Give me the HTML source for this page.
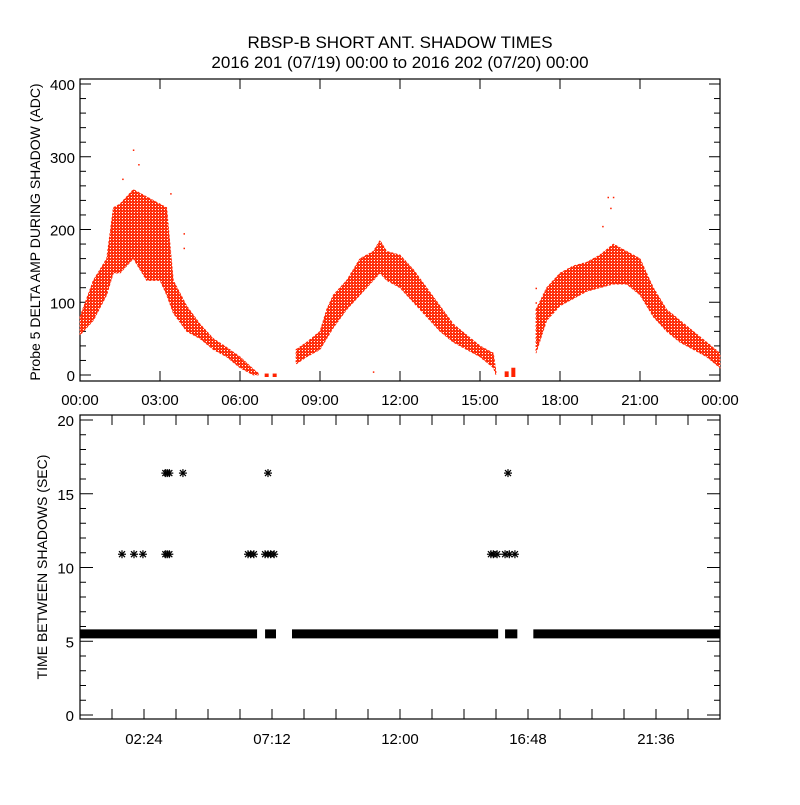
<!DOCTYPE html>
<html><head><meta charset="utf-8"><style>
html,body{margin:0;padding:0;background:#fff;}
svg text{font-family:"Liberation Sans",sans-serif;fill:#000;}
</style></head><body>
<svg id="chart" width="800" height="800" viewBox="0 0 800 800">
<defs>
<pattern id="speck" width="3" height="3" patternUnits="userSpaceOnUse">
<rect x="0" y="0" width="3" height="3" fill="#ff5533"/>
<rect x="0" y="0" width="2" height="1" fill="#ff2200"/>
<rect x="1" y="1" width="2" height="1" fill="#ff2200"/>
<rect x="0" y="2" width="1" height="1" fill="#ff2200"/>
<rect x="2" y="2" width="1" height="1" fill="#ffffff"/>
</pattern>
</defs>
<text x="400" y="48" font-size="17" text-anchor="middle">RBSP-B SHORT ANT. SHADOW TIMES</text>
<text x="400" y="68" font-size="17" text-anchor="middle">2016 201 (07/19) 00:00 to 2016 202 (07/20) 00:00</text>
<g id="topPanel"></g>
<g id="botPanel"></g>
</svg>
<script>
// ---- top panel data (hours, low/high ADC envelope) ----
const seg1Hours = [0,0.5,1.0,1.25,1.5,2.0,2.5,3.0,3.25,3.5,4.0,4.5,5.0,5.5,6.0,6.5,6.7];
const seg1Low   = [55,75,110,140,140,160,130,130,110,85,60,50,35,25,10,0,0];
const seg1High  = [80,130,160,230,235,255,245,235,230,130,95,70,50,38,25,8,2];
const seg2Hours = [8.1,8.5,9.0,9.25,9.5,10,10.5,11,11.25,11.5,12,12.5,13,13.5,14,14.5,15,15.5,15.6];
const seg2Low   = [15,25,35,50,65,90,110,130,140,130,120,100,80,60,45,35,25,10,0];
const seg2High  = [35,45,60,90,110,130,160,170,185,170,165,145,120,95,70,55,40,30,5];
const seg3Hours = [17.1,17.5,18,18.5,19,19.5,20,20.5,21,21.5,22,22.5,23,23.5,24];
const seg3Low   = [30,75,95,105,115,120,125,125,110,80,60,45,35,25,10];
const seg3High  = [90,120,140,150,155,165,180,170,160,120,90,75,60,45,30];
const smallHours = [7.0,7.3,16.0,16.25];
const smallVals  = [2,2,5,10];
const outlierHours = [2.0,2.2,1.6,3.4,3.9,3.9,19.8,19.9,20.0,19.6,17.1,17.1,11.0];
const outlierVals  = [310,290,270,250,195,175,245,230,245,205,120,100,5];
const topYTicks = [0,100,200,300,400];
const topXLabels = ["00:00","03:00","06:00","09:00","12:00","15:00","18:00","21:00","00:00"];
// ---- bottom panel data ----
const bandSegments = [[0,6.64],[6.94,7.35],[7.95,15.68],[15.94,16.4],[17.0,24]];
const bandValue = 5.5;
const starHours = [1.575,2.025,2.36,3.2,3.27,3.35,6.3,6.4,6.52,6.94,7.05,7.15,7.28,15.41,15.5,15.64,15.94,16.1,16.31,3.2,3.27,3.35,3.86,7.05,16.05];
const starVals  = [10.9,10.9,10.9,10.9,10.9,10.9,10.9,10.9,10.9,10.9,10.9,10.9,10.9,10.9,10.9,10.9,10.9,10.9,10.9,16.4,16.4,16.4,16.4,16.4,16.4];
const botYTicks = [0,5,10,15,20];
const botXLabels = ["02:24","07:12","12:00","16:48","21:36"];

const NS="http://www.w3.org/2000/svg";
function mk(tag,attrs,parent){const e=document.createElementNS(NS,tag);for(const k in attrs)e.setAttribute(k,attrs[k]);parent.appendChild(e);return e;}
const L=80,R=720;
const xH=h=>L+h*(R-L)/24;
const yT=v=>375-v*0.7275;
const yB=v=>715-v*14.75;
const topG=document.getElementById('topPanel'), botG=document.getElementById('botPanel');

const f1=mk('rect',{x:L,y:79,width:R-L,height:302,fill:'none',stroke:'#000','stroke-width':1.2},topG);


for(let v=0;v<=400;v+=20){const maj=v%100===0;const len=maj?11:6;
 mk('line',{x1:L,y1:yT(v),x2:L+len,y2:yT(v),stroke:'#000'},topG);
 mk('line',{x1:R,y1:yT(v),x2:R-len,y2:yT(v),stroke:'#000'},topG);}
topYTicks.forEach(v=>{const t=mk('text',{x:L-5,y:yT(v)+6,'font-size':15,'text-anchor':'end'},topG);t.textContent=v;
 
 });
topXLabels.forEach((s,i)=>{const x=xH(i*3);
 mk('line',{x1:x,y1:79,x2:x,y2:89,stroke:'#000'},topG);mk('line',{x1:x,y1:381,x2:x,y2:371,stroke:'#000'},topG);
 const t=mk('text',{x:x,y:405,'font-size':15,'text-anchor':'middle'},topG);t.textContent=s;
 
 });
const yt=mk('text',{transform:'translate(40,232) rotate(-90)','font-size':14,'text-anchor':'middle'},topG);
yt.textContent='Probe 5 DELTA AMP DURING SHADOW (ADC)';


function band(hs,lo,hi,name){let pts=hs.map((h,i)=>xH(h)+','+yT(hi[i]));
 for(let i=hs.length-1;i>=0;i--)pts.push(xH(hs[i])+','+yT(lo[i]));
 const p=mk('polygon',{points:pts.join(' '),fill:'url(#speck)',stroke:'#ff2200','stroke-width':0.8,'stroke-dasharray':'2 2'},topG);
 
 }
band(seg1Hours,seg1Low,seg1High,'amp-points-pass-1');
band(seg2Hours,seg2Low,seg2High,'amp-points-pass-2');
band(seg3Hours,seg3Low,seg3High,'amp-points-pass-3');
smallHours.forEach((h,i)=>{const r=mk('rect',{x:xH(h)-2,y:yT(smallVals[i]),width:4,height:375-yT(smallVals[i])+2,fill:'#ff2200'},topG);
 
 });
outlierHours.forEach((h,i)=>{const r=mk('rect',{x:xH(h)-0.5,y:yT(outlierVals[i]),width:1.5,height:1.5,fill:'#ff2200'},topG);
 
 });

const f2=mk('rect',{x:L,y:415,width:R-L,height:304,fill:'none',stroke:'#000','stroke-width':1.2},botG);


for(let v=0;v<=20;v++){const maj=v%5===0;const len=maj?13:6;
 mk('line',{x1:L,y1:yB(v),x2:L+len,y2:yB(v),stroke:'#000'},botG);
 mk('line',{x1:R,y1:yB(v),x2:R-len,y2:yB(v),stroke:'#000'},botG);}
botYTicks.forEach(v=>{const t=mk('text',{x:L-6,y:yB(v)+6,'font-size':15,'text-anchor':'end'},botG);t.textContent=v;
 
 });
for(let h=1.2;h<24;h+=1.2){const x=xH(h);
 mk('line',{x1:x,y1:415,x2:x,y2:425,stroke:'#000'},botG);mk('line',{x1:x,y1:719,x2:x,y2:709,stroke:'#000'},botG);}
botXLabels.forEach((s,i)=>{const x=xH(2.4+i*4.8);
 const t=mk('text',{x:x,y:744,'font-size':15,'text-anchor':'middle'},botG);t.textContent=s;
 
 });
const yb=mk('text',{transform:'translate(47,567) rotate(-90)','font-size':14,'text-anchor':'middle'},botG);
yb.textContent='TIME BETWEEN SHADOWS (SEC)';


bandSegments.forEach(s=>{const r=mk('rect',{x:xH(s[0]),y:yB(bandValue)-4.5,width:xH(s[1])-xH(s[0]),height:9,fill:'#000'},botG);
 
 });
starHours.forEach((h,i)=>{const x=xH(h),y=yB(starVals[i]);
 const g=mk('g',{stroke:'#000','stroke-width':1.2},botG);
 
 
 mk('line',{x1:x-4,y1:y,x2:x+4,y2:y},g);mk('line',{x1:x,y1:y-4,x2:x,y2:y+4},g);
 mk('line',{x1:x-3,y1:y-3,x2:x+3,y2:y+3},g);mk('line',{x1:x-3,y1:y+3,x2:x+3,y2:y-3},g);});
</script>
</body></html>
